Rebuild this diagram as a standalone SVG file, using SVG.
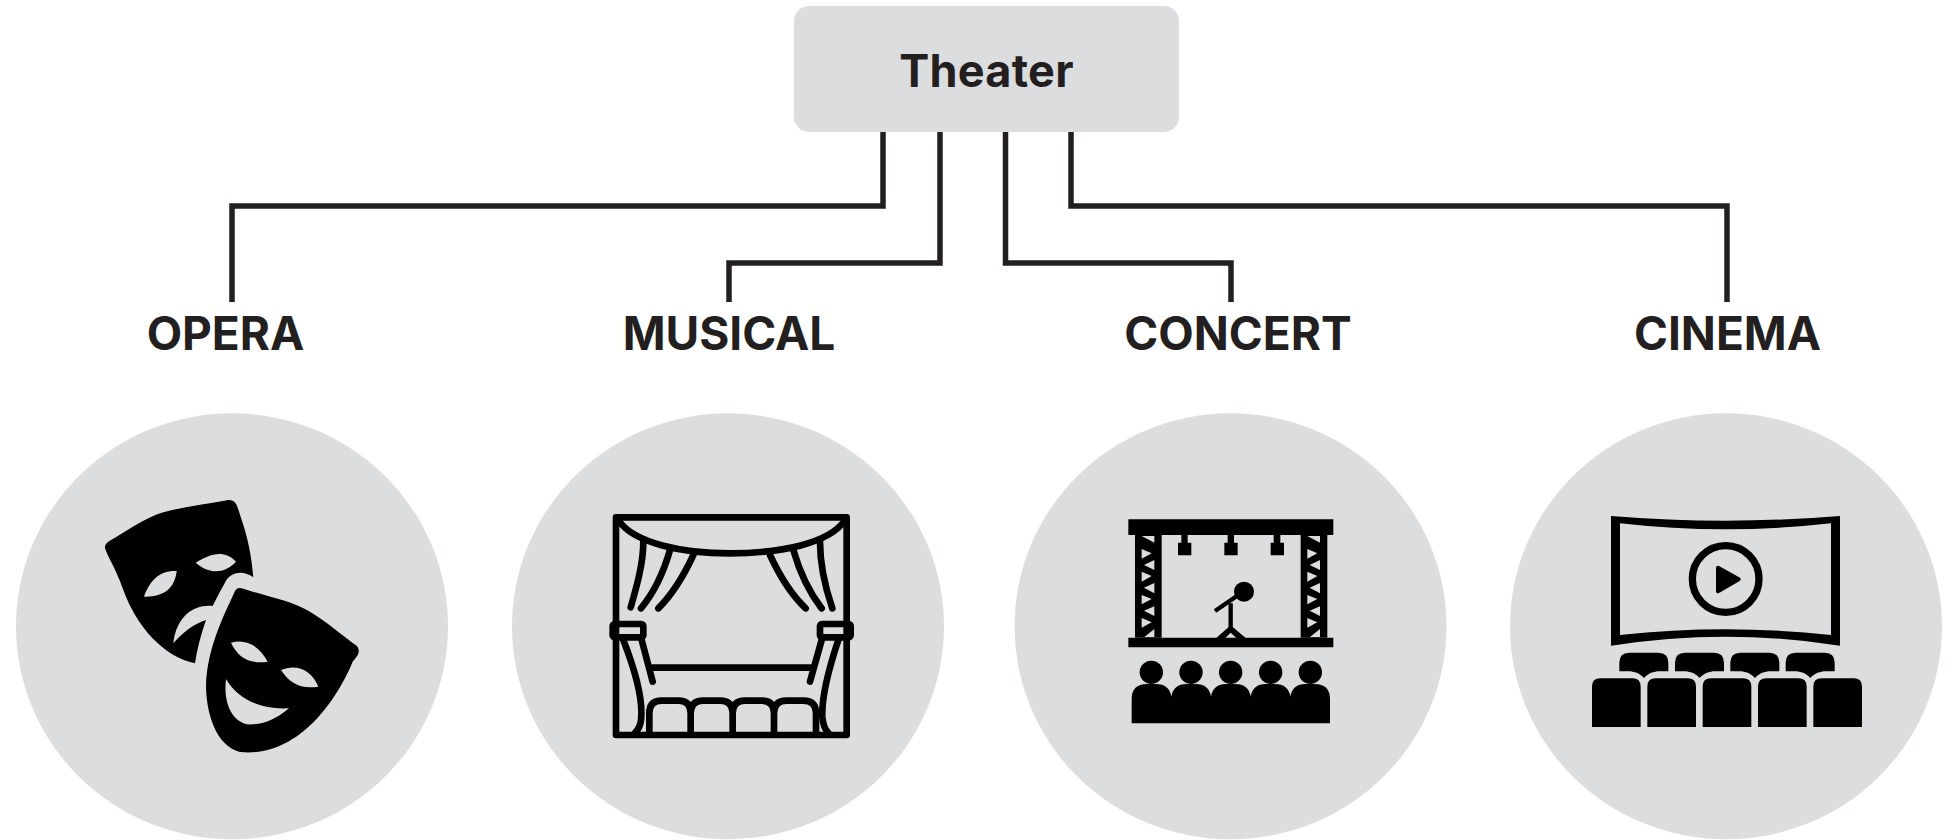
<svg xmlns="http://www.w3.org/2000/svg" width="1953" height="840" viewBox="0 0 1953 840" xmlns:xlink="http://www.w3.org/1999/xlink">
<style>
.bg{fill:#dcddde}
.t{font-family:"Inter","Liberation Sans",sans-serif;font-weight:700;fill:#231f20;text-anchor:middle}
.c{fill:none;stroke:#231f20;stroke-width:5.500;stroke-linejoin:miter}
.k{fill:#000}
.s{fill:none;stroke:#000;stroke-width:20;stroke-linecap:round;stroke-linejoin:round}
.g{fill:#dcddde}
</style>
<defs>
<g id="truss">
<path class="k" d="M75 105H155V413H75Z"/>
<path class="g" d="M95 108H133V128ZM95 147L125 160L95 176ZM95 215L125 228L95 245ZM95 285L125 297L95 313ZM95 354L125 367L95 383ZM133 180L102 195L133 210ZM133 249L102 263L133 280ZM133 319L102 332L133 348ZM133 387L103 411H133Z"/>
</g>
<path id="seatb" class="k" d="M118 514V488Q118 458 148 458H235Q265 458 265 488V514H240C220 514 205 520 192 534C179 520 164 514 144 514Z"/>
<path id="seatf" class="k" d="M36 681V560Q36 535 61 535H157Q182 535 182 560V681Z"/>
</defs>
<g id="connectors">
<path class="c" d="M883 132V206H232V302"/>
<path class="c" d="M940 132V263H729V302"/>
<path class="c" d="M1005.500 132V263H1231V302"/>
<path class="c" d="M1071 132V206H1727V302"/>
</g>
<g id="theater">
<rect class="bg" x="794" y="6" width="385" height="126" rx="15"/>
<text class="t" x="986.500" y="87" font-size="45" letter-spacing=".3">Theater</text>
</g>
<g id="opera">
<text class="t" x="225.500" y="350" font-size="46">OPERA</text>
<ellipse class="bg" cx="232" cy="626.300" rx="216" ry="213"/>
<g transform="translate(80 480) scale(.33333)">
<path class="k" d="M75 205Q73 192 88 183C140 155 190 115 250 97C310 80 380 72 445 60Q465 58 472 80C490 135 512 190 520 292C490 270 455 275 438 302C425 325 412 350 398 378C345 372 290 405 280 490C310 455 345 430 378 420C362 465 352 505 345 550C250 530 170 440 130 330C105 260 85 235 75 205Z"/>
<path class="g" d="M347 248C385 225 430 205 468 245C435 280 390 285 347 248ZM290 273C240 270 210 300 192 350C250 352 285 325 290 273Z"/>
<path class="k" d="M465 333Q472 320 490 326C560 350 630 360 690 395C740 425 785 465 830 497Q842 510 832 527L818 545C770 660 660 825 490 817C420 810 380 720 378 620C380 500 440 390 465 333Z"/>
<path class="g" d="M453 488C500 475 540 500 563 545C510 552 475 535 453 488ZM603 570C650 550 695 570 715 620C660 628 630 610 603 570ZM438 597C470 650 530 690 627 685C580 725 540 735 500 733C450 720 430 660 438 597Z"/>
</g>
</g>
<g id="musical">
<text class="t" x="729" y="350" font-size="46">MUSICAL</text>
<ellipse class="bg" cx="728" cy="626.300" rx="216" ry="213"/>
<g transform="translate(590 500) scale(.33333)">
<rect class="s" x="78" y="52" width="692" height="653"/>
<path class="s" d="M85 60C130 130 280 160 420 160C570 160 720 130 765 60"/>
<path class="s" d="M160 125C160 190 140 260 122 322M240 150C220 220 190 280 153 325M310 165C280 230 250 280 205 325M540 165C570 230 600 280 647 325M610 150C630 220 660 280 695 325M690 125C690 190 705 260 727 325"/>
<rect class="s" x="68" y="372" width="92" height="40" rx="6"/>
<rect class="s" x="690" y="372" width="92" height="40" rx="6"/>
<path class="s" d="M100 420C135 510 160 600 153 660Q150 685 135 698M155 420L188 545M745 420C715 510 695 600 697 650Q700 685 715 698M695 420L660 545M188 503H668"/>
<path class="s" d="M178 698V640Q178 602 215 602H265Q302 602 302 640V698M302 640Q302 602 340 602H390Q428 602 428 640V698M428 640Q428 602 465 602H515Q552 602 552 640V698M552 640Q552 602 590 602H640Q678 602 678 640V698"/>
</g>
</g>
<g id="concert">
<text class="t" x="1238" y="350" font-size="46">CONCERT</text>
<ellipse class="bg" cx="1230.500" cy="626.300" rx="216" ry="213"/>
<g transform="translate(1110 500) scale(.33333)">
<path class="k" d="M55 58H670V105H55ZM55 413H670V442H55Z"/>
<use xlink:href="#truss" href="#truss"/>
<use xlink:href="#truss" href="#truss" transform="translate(497 0)"/>
<path class="k" d="M214 105H233V128H244V166H204V128H214ZM353 105H372V128H383V166H343V128H353ZM491 105H511V128H522V166H482V128H491Z"/>
<circle class="k" cx="402" cy="275" r="30"/>
<path d="M315 333L385 285M362 310V385" fill="none" stroke="#000" stroke-width="13"/>
<path class="k" d="M318 415L356 381H368L408 415H380L362 398L345 415Z"/>
<circle class="k" cx="124" cy="517" r="35"/><circle class="k" cx="243" cy="517" r="35"/><circle class="k" cx="362" cy="517" r="35"/><circle class="k" cx="482" cy="517" r="35"/><circle class="k" cx="601" cy="517" r="35"/>
<path class="k" d="M65 670V598Q65 552 111 552H138Q178 552 184 590Q190 552 230 552H257Q297 552 303 590Q309 552 349 552H376Q416 552 422 590Q428 552 468 552H495Q535 552 541 590Q547 552 587 552H614Q660 552 660 598V670Z"/>
</g>
</g>
<g id="cinema">
<text class="t" x="1727.500" y="350" font-size="46">CINEMA</text>
<ellipse class="bg" cx="1726" cy="626.300" rx="216" ry="213"/>
<g transform="translate(1580 500) scale(.33333)">
<path class="k" fill-rule="evenodd" d="M93 48Q437 76 780 48V437Q437 383 93 437ZM120 70V405Q437 371 753 405V70Q437 106 120 70Z"/>
<circle cx="437" cy="237" r="100" fill="none" stroke="#000" stroke-width="22"/>
<path d="M414 203L476 238L414 274Z" fill="#000" stroke="#000" stroke-width="12" stroke-linejoin="round"/>
<use xlink:href="#seatb" href="#seatb"/><use xlink:href="#seatb" href="#seatb" transform="translate(167 0)"/><use xlink:href="#seatb" href="#seatb" transform="translate(333 0)"/><use xlink:href="#seatb" href="#seatb" transform="translate(499 0)"/>
<use xlink:href="#seatf" href="#seatf"/><use xlink:href="#seatf" href="#seatf" transform="translate(166 0)"/><use xlink:href="#seatf" href="#seatf" transform="translate(332 0)"/><use xlink:href="#seatf" href="#seatf" transform="translate(498 0)"/><use xlink:href="#seatf" href="#seatf" transform="translate(664 0)"/>
</g>
</g>
</svg>
